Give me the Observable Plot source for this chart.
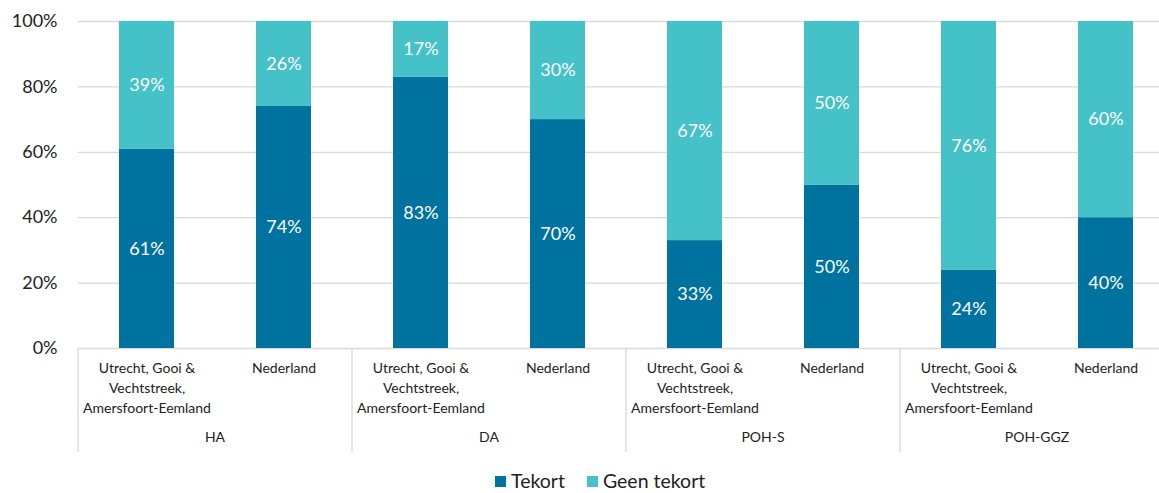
<!DOCTYPE html>
<html>
<head>
<meta charset="utf-8">
<script src="https://cdn.jsdelivr.net/npm/d3@7"></script>
<script src="https://cdn.jsdelivr.net/npm/@observablehq/plot@0.6"></script>
<style>
  html, body { margin: 0; padding: 0; background: #fff; overflow: hidden; width: 1159px; height: 493px; }
  #chart { position: relative; width: 1159px; height: 493px; overflow: hidden; font-family: Lato, "Open Sans", sans-serif; }
  #chart svg { max-width: none !important; display: block; }
  #legend { position: absolute; left: 495px; top: 471px; display: flex; align-items: center; font-size: 19.5px; line-height: 20px; height: 20px; color: #222; }
  #legend .sw { width: 11px; height: 11px; display: inline-block; margin-right: 5px; }
  #legend .item { display: flex; align-items: center; margin-right: 22px; }
</style>
</head>
<body>
<div id="chart"></div>
<script>
const groups = ["HA", "DA", "POH-S", "POH-GGZ"];
const regions = ["Utrecht, Gooi &\nVechtstreek,\nAmersfoort-Eemland", "Nederland"];
const series = ["Tekort", "Geen tekort"];
const colors = ["#0072A0", "#45C1C8"];
// per bar, order: HA-Utrecht, HA-NL, DA-Utrecht, DA-NL, POH-S-Utrecht, POH-S-NL, POH-GGZ-Utrecht, POH-GGZ-NL
const tekort = [61, 74, 83, 70, 33, 50, 24, 40];
const geenTekort = [39, 26, 17, 30, 67, 50, 76, 60];
const yTicks = [0, 0.2, 0.4, 0.6, 0.8, 1];

const keys = [];
const rows = [];
groups.forEach((g, gi) => {
  regions.forEach((r, ri) => {
    const i = gi * regions.length + ri;
    const key = g + "|" + r;
    keys.push(key);
    rows.push({key, group: g, region: r, series: series[0], pct: tekort[i], value: tekort[i] / 100});
    rows.push({key, group: g, region: r, series: series[1], pct: geenTekort[i], value: geenTekort[i] / 100});
  });
});

const W = 1174, H = 458, mL = 78, mR = 0, mT = 21, mB = 110;

const chart = Plot.plot({
  width: W,
  height: H,
  marginLeft: mL,
  marginRight: mR,
  marginTop: mT,
  marginBottom: mB,
  style: {fontFamily: "Lato, 'Open Sans', sans-serif", fontSize: "18px", color: "#222", background: "#fff", maxWidth: "none"},
  x: {domain: keys, paddingInner: 0.6, paddingOuter: 0.3, align: 0.5, label: null},
  y: {domain: [0, 1], label: null},
  color: {domain: series, range: colors},
  marks: [
    Plot.gridY(yTicks, {stroke: "#d9d9d9", strokeOpacity: 1, strokeWidth: 1.3}),
    Plot.axisY(yTicks, {tickSize: 0, tickPadding: 21, tickFormat: d3.format(".0%"), fontSize: 18, label: null}),
    Plot.barY(rows, {x: "key", y: "value", fill: "series", z: "series", order: series}),
    Plot.text(rows, Plot.stackY({x: "key", y: "value", z: "series", order: series, text: d => d.pct + "%", fill: "white", fontSize: 18})),
    Plot.axisX(keys, {tickSize: 0, tickPadding: 10, fontSize: 14, lineHeight: 1.43, tickFormat: k => k.split("|")[1], label: null})
  ]
});

document.getElementById("chart").appendChild(chart);

// group separators and group labels, positioned with the plot's own x scale
const xs = chart.scale("x");
const ys = chart.scale("y");
const xf = d3.scaleBand().domain(xs.domain).range(xs.range).paddingInner(0.6).paddingOuter(0.3).align(0.5);
const step = xs.step !== undefined ? xs.step : xf.step();
const bw = xs.bandwidth !== undefined ? xs.bandwidth : xf.bandwidth();
const xpos = k => xs.apply(k);
const svg = d3.select(chart.tagName.toLowerCase() === "svg" ? chart : chart.querySelector("svg"));
const y0 = ys.apply(0);
const g = svg.append("g");
groups.forEach((grp, gi) => {
  const first = keys[gi * regions.length];
  const last = keys[gi * regions.length + regions.length - 1];
  const left = xpos(first) + bw / 2 - step / 2;
  const right = xpos(last) + bw / 2 + step / 2;
  g.append("line").attr("x1", left).attr("x2", left).attr("y1", y0).attr("y2", H - 6)
    .attr("stroke", "#d9d9d9").attr("stroke-width", 1.3);
  if (gi === groups.length - 1) {
    g.append("line").attr("x1", right).attr("x2", right).attr("y1", y0).attr("y2", H - 6)
      .attr("stroke", "#d9d9d9").attr("stroke-width", 1.3);
  }
  g.append("text").attr("x", (left + right) / 2).attr("y", y0 + 94)
    .attr("text-anchor", "middle").attr("font-size", 14).attr("fill", "#222").text(grp);
});

// legend
const legend = document.createElement("div");
legend.id = "legend";
series.forEach((s, i) => {
  const item = document.createElement("div");
  item.className = "item";
  const sw = document.createElement("span");
  sw.className = "sw";
  sw.style.background = colors[i];
  item.appendChild(sw);
  item.appendChild(document.createTextNode(s));
  legend.appendChild(item);
});
document.getElementById("chart").appendChild(legend);
</script>
</body>
</html>
